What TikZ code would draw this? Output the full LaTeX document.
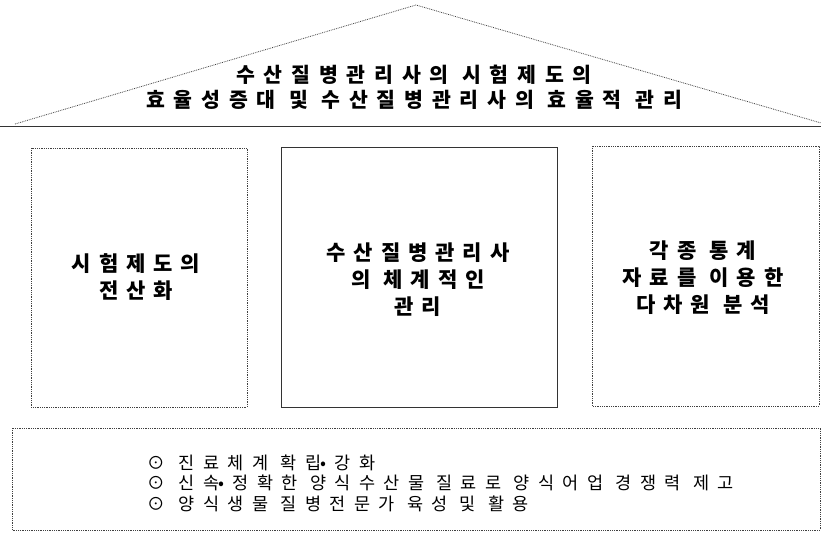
\documentclass[tikz,border=0pt]{standalone}
\usepackage{fontspec}
\newfontfamily\krtop{Noto Sans CJK KR}[LetterSpace=43]
\newfontfamily\krbox{Noto Sans CJK KR}[LetterSpace=38]
\newfontfamily\krlist{Noto Sans CJK KR}[LetterSpace=48]
\newcommand\tdot{\kern-1pt•}
\begin{document}
\begin{tikzpicture}[x=1pt,y=-1pt,
  frame/.style={draw=black!80,line width=0.7pt},
  dframe/.style={draw=black!75,line width=0.8pt,densely dotted},
  toptext/.style={align=center,font=\krtop\bfseries\fontsize{20.5}{25}\selectfont,inner sep=0pt},
  boxtext/.style={align=center,font=\krbox\bfseries\fontsize{21}{27}\selectfont,inner sep=0pt},
  listtext/.style={align=left,anchor=west,font=\krlist\fontsize{17.5}{20.5}\selectfont,inner sep=0pt}]
\useasboundingbox (0,0) rectangle (821,535);
% roof
\coordinate (apex) at (416,5);
\coordinate (rl) at (15,124);
\coordinate (rr) at (821,123);
\coordinate (bl) at (0,126);
\coordinate (br) at (821,126);
\draw[dframe] (rl) -- (apex) -- (rr);
\draw[frame] (bl) -- (br);
\node[toptext] (roof) at (414,87) {수산질병관리사의 시험제도의\\효율성증대 및 수산질병관리사의 효율적 관리};
% pillars
\draw[dframe] (31,148) rectangle (247,407);
\node[boxtext] (p1) at (136,277) {시험제도의\\전산화};
\draw[frame] (281,147) rectangle (557,407);
\node[boxtext] (p2) at (418,280) {수산질병관리사\\의 체계적인\\관리};
\draw[dframe] (592,146) rectangle (819,406);
\node[boxtext] (p3) at (703,278) {각종 통계\\자료를 이용한\\다차원 분석};
% base
\draw[dframe] (12,428) rectangle (820,530);
\node[listtext] (list) at (147,483) {⊙\hspace{14pt}진료체계 확립\tdot 강화\\⊙\hspace{14pt}신속\tdot 정확한 양식수산물 질료로 양식어업 경쟁력 제고\\⊙\hspace{14pt}양식생물 질병전문가 육성 및 활용};
\end{tikzpicture}
\end{document}
